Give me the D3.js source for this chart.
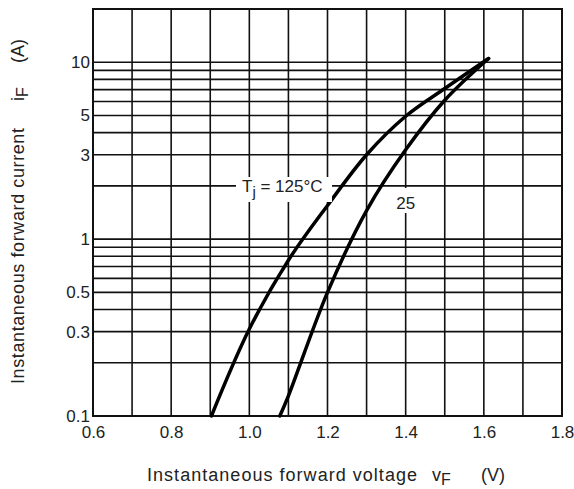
<!DOCTYPE html>
<html>
<head>
<meta charset="utf-8">
<script src="https://cdn.jsdelivr.net/npm/d3@7"></script>
<style>
  body { margin: 0; background: #fff; }
  svg text { font-family: "Liberation Sans", Arial, sans-serif; fill: #222; }
</style>
</head>
<body>
<svg width="574" height="489"></svg>
<script>
// Forward voltage ticks (V) and current ticks (A)
const xTicks = [0.6, 0.8, 1.0, 1.2, 1.4, 1.6, 1.8];
const xGrid = [0.6, 0.7, 0.8, 0.9, 1.0, 1.1, 1.2, 1.3, 1.4, 1.5, 1.6, 1.7, 1.8];
const yTicks = [0.1, 0.3, 0.5, 1, 3, 5, 10];
const yGrid = [0.1, 0.2, 0.3, 0.4, 0.5, 0.6, 0.7, 0.8, 0.9, 1, 2, 3, 4, 5, 6, 7, 8, 9, 10];

// Curves: [vF, iF]
const curve125 = [[0.903, 0.1], [1.0, 0.31], [1.1, 0.76], [1.2, 1.55], [1.3, 3.0], [1.4, 4.95], [1.5, 7.1], [1.612, 10.5]];
const curve25 = [[1.078, 0.1], [1.1, 0.13], [1.2, 0.5], [1.3, 1.45], [1.4, 3.2], [1.5, 6.1], [1.612, 10.5]];

const margin = { left: 93, top: 9 };
const width = 469, height = 407;

const svg = d3.select("svg");
const g = svg.append("g").attr("transform", `translate(${margin.left},${margin.top})`);

const x = d3.scaleLinear().domain([0.6, 1.8]).range([0, width]);
const y = d3.scaleLog().domain([0.1, 20]).range([height, 0]);

// grid
g.selectAll("line.v").data(xGrid).enter().append("line")
  .attr("x1", d => x(d)).attr("x2", d => x(d))
  .attr("y1", 0).attr("y2", height)
  .style("stroke", "#111").style("stroke-width", 1.6);

g.selectAll("line.h").data(yGrid).enter().append("line")
  .attr("x1", 0).attr("x2", width)
  .attr("y1", d => y(d)).attr("y2", d => y(d))
  .style("stroke", "#111").style("stroke-width", 1.6);

// frame
g.append("rect")
  .attr("width", width).attr("height", height)
  .style("fill", "none").style("stroke", "#111").style("stroke-width", 2);

// tick labels via axes
const xAxis = g.append("g")
  .attr("transform", `translate(0,${height})`)
  .call(d3.axisBottom(x).tickValues(xTicks).tickSize(0).tickPadding(10).tickFormat(d3.format(".1f")));
const yAxis = g.append("g")
  .call(d3.axisLeft(y).tickValues(yTicks).tickSize(0).tickPadding(3).tickFormat(d => d < 1 ? d3.format(".1f")(d) : d));
[xAxis, yAxis].forEach(a => {
  a.select(".domain").remove();
  a.selectAll("text").style("font-size", "17px").style("fill", "#222").style("font-family", "Liberation Sans, Arial, sans-serif");
});

// curves
const line = d3.line().x(d => x(d[0])).y(d => y(d[1])).curve(d3.curveCatmullRom.alpha(0.5));
[curve125, curve25].forEach(c => {
  g.append("path").datum(c).attr("d", line)
    .style("fill", "none").style("stroke", "#000").style("stroke-width", 3.5)
    .style("stroke-linecap", "round");
});

// curve labels with white background
g.append("rect").attr("x", 143).attr("y", 168).attr("width", 96).attr("height", 25).style("fill", "#fff");
const t1 = g.append("text").attr("x", 149).attr("y", 183).style("font-size", "17px");
t1.append("tspan").text("T");
t1.append("tspan").attr("dy", 5).style("font-size", "15px").text("j");
t1.append("tspan").attr("dy", -5).text(" = 125°C");

g.append("rect").attr("x", 300).attr("y", 179).attr("width", 25).attr("height", 25).style("fill", "#fff");
g.append("text").attr("x", x(1.4)).attr("y", 200).attr("text-anchor", "middle").style("font-size", "17px").text("25");

// axis titles
const xt = svg.append("text").attr("y", 481).style("font-size", "18px");
xt.append("tspan").attr("x", 147).attr("textLength", 270).attr("lengthAdjust", "spacing").text("Instantaneous forward voltage");
xt.append("tspan").attr("x", 432).text("v");
xt.append("tspan").attr("dy", 4).style("font-size", "16px").text("F");
xt.append("tspan").attr("dy", -4).attr("x", 481).text("(V)");

const yt = svg.append("text").attr("transform", "translate(24,384) rotate(-90)").style("font-size", "18px");
yt.append("tspan").attr("x", 0).attr("textLength", 256).attr("lengthAdjust", "spacing").text("Instantaneous forward current");
yt.append("tspan").attr("x", 283).text("i");
yt.append("tspan").attr("dy", 4).style("font-size", "16px").text("F");
yt.append("tspan").attr("dy", -4).attr("x", 321).text("(A)");
</script>
</body>
</html>
